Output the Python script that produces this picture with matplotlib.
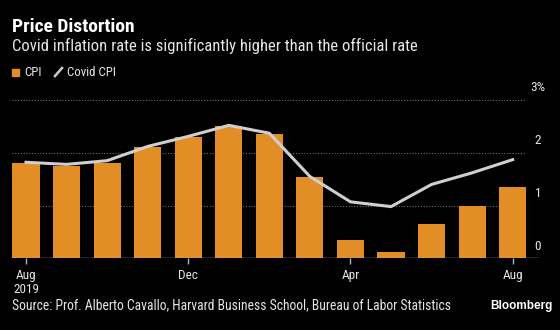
import numpy as np
import matplotlib
matplotlib.use('Agg')
import matplotlib.pyplot as plt
from matplotlib.patches import Rectangle
from matplotlib.lines import Line2D
from matplotlib import font_manager

# monthly data, Aug 2019 .. Aug 2020
months = ['Aug', 'Sep', 'Oct', 'Nov', 'Dec', 'Jan', 'Feb', 'Mar', 'Apr', 'May', 'Jun', 'Jul', 'Aug']
cpi = [1.8, 1.75, 1.8, 2.1, 2.3, 2.5, 2.35, 1.55, 0.35, 0.12, 0.65, 1.0, 1.35]
covid_cpi = [1.82, 1.78, 1.85, 2.12, 2.31, 2.52, 2.37, 1.55, 1.07, 0.98, 1.40, 1.62, 1.87]
tick_pos = [0, 4, 8, 12]
tick_labels = ['Aug\n2019', 'Dec', 'Apr', 'Aug']
y_ticks = [0, 1, 2, 3]
y_labels = ['0', '1', '2', '3%']

names = {f.name for f in font_manager.fontManager.ttflist}
fam = 'DejaVu Sans'
for cand in ['Liberation Sans Narrow', 'DejaVu Sans Condensed', 'Roboto Condensed']:
    if cand in names:
        fam = cand
        break
plt.rcParams['font.family'] = fam
narrow = fam != 'DejaVu Sans'
# scale text to keep widths close to the reference
k = 1.0 if narrow else 0.84

bg = '#000000'
orange = '#E38D26'
grey_line = '#CFCFCF'
txt = '#E6E6E6'

fig = plt.figure(figsize=(5.6, 3.3), dpi=100, facecolor=bg)
ax = fig.add_axes([12/560, 1-258.3/330, 528/560, 158.3/330], facecolor=bg)

x = np.arange(len(months))
ax.bar(x, cpi, width=0.67, color=orange, zorder=2)
ax.plot(x, covid_cpi, color=grey_line, lw=2.2, zorder=3, solid_joinstyle='miter')

ax.set_xlim(-0.345, 12.673)
ax.set_ylim(0, 3)

for v in y_ticks[1:]:
    ax.hlines(v, -0.345, 12.33, colors='#6E6E6E', linestyles=(0, (1, 1.5)), lw=0.8, zorder=1)
for v, lab in zip(y_ticks, y_labels):
    ax.text(12.62, v + 0.23, lab, color=txt, fontsize=9.5*k, ha='center', va='center', clip_on=False)

ax.axhline(0, color='#A9B4C2', lw=1, zorder=4)

for s in ax.spines.values():
    s.set_visible(False)
ax.set_yticks([])
ax.set_xticks(tick_pos)
ax.set_xticklabels(tick_labels, color=txt, fontsize=9.5*k, linespacing=1.05)
ax.tick_params(axis='x', length=4.5, color='#A9B4C2', width=1, pad=3.5)

fig.text(12/560, 1-27/330, 'Price Distortion', color='white', fontsize=14*k, fontweight='bold', va='center')
fig.text(12/560, 1-46/330, 'Covid inflation rate is significantly higher than the official rate',
         color=txt, fontsize=12*k, va='center')

# legend
fig.patches.append(Rectangle((12/560, 1-76/330), 7/560, 7/330, transform=fig.transFigure,
                             color=orange, figure=fig))
fig.text(24/560, 1-72/330, 'CPI', color=txt, fontsize=9.3*k, va='center')
fig.lines.append(Line2D([55/560, 62/560], [1-76/330, 1-68/330], transform=fig.transFigure,
                        color=grey_line, lw=1.8, figure=fig))
fig.text(67/560, 1-72/330, 'Covid CPI', color=txt, fontsize=9.3*k, va='center')

fig.text(12/560, 1-305/330, 'Source: Prof. Alberto Cavallo, Harvard Business School, Bureau of Labor Statistics',
         color=txt, fontsize=9.8*k, va='center')
fig.text(553/560, 1-306/330, 'Bloomberg', color='white', fontsize=8.5, fontweight='bold',
         va='center', ha='right', family='Liberation Sans')

fig.savefig('out.png', dpi=100, facecolor=bg)
